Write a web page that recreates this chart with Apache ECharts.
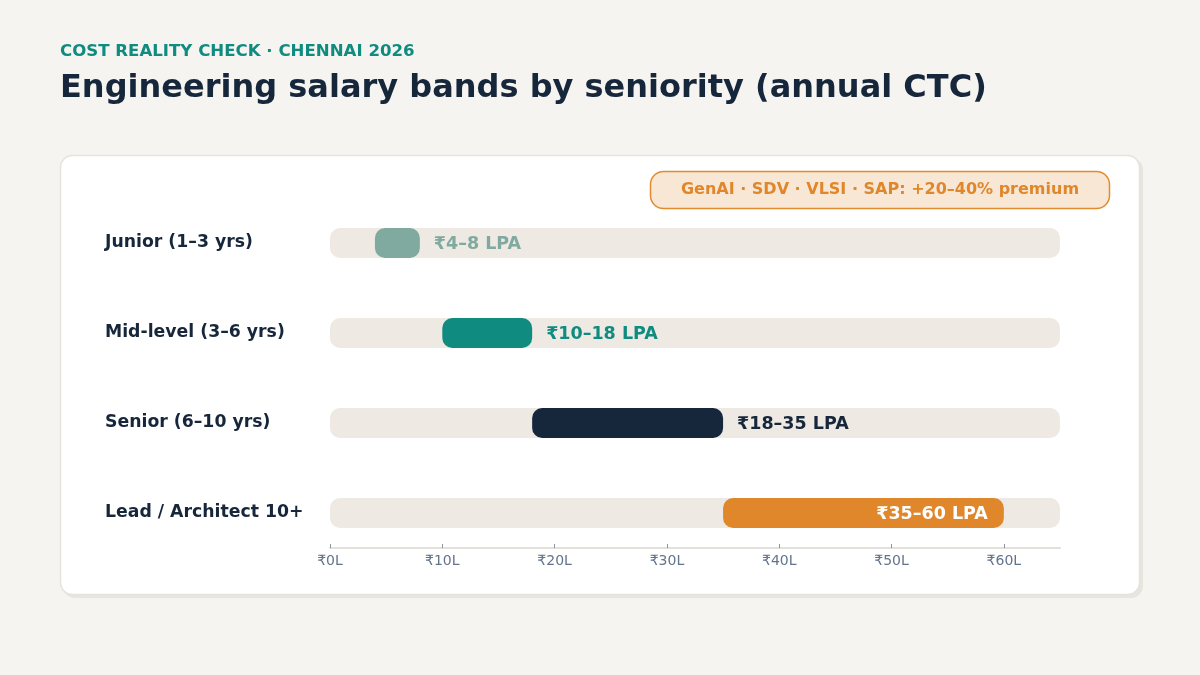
<!DOCTYPE html>
<html>
<head>
<meta charset="utf-8">
<script src="https://cdn.jsdelivr.net/npm/echarts@6/dist/echarts.min.js"></script>
<style>
  html,body{margin:0;padding:0;background:#f5f4f0;}
  #main{width:1200px;height:675px;}
</style>
</head>
<body>
<div id="main"></div>
<script>
// salary bands, in lakhs per annum
var levels = ['Junior (1–3 yrs)', 'Mid-level (3–6 yrs)', 'Senior (6–10 yrs)', 'Lead / Architect 10+'];
var bandLow = [4, 10, 18, 35];
var bandHigh = [8, 18, 35, 60];
var bandText = ['₹4–8 LPA', '₹10–18 LPA', '₹18–35 LPA', '₹35–60 LPA'];
var bandColors = ['#80a9a0', '#0f8b80', '#16263b', '#e0872b'];
var xTicks = [0, 10, 20, 30, 40, 50, 60];

var FONT = 'DejaVu Sans';

window.addEventListener('load', function(){
    initChart();
})

function initChart(){
    var myChart = echarts.init(document.getElementById('main'));

    var baseData = [];
    var rangeData = [];
    for (let i = 0; i < levels.length; i++) {
        baseData.push(bandLow[i]);
        var inside = (i == levels.length - 1);
        rangeData.push({
            value: bandHigh[i] - bandLow[i],
            itemStyle: {color: bandColors[i]},
            label: {
                show: true,
                formatter: bandText[i],
                position: inside ? 'insideRight' : 'right',
                distance: inside ? 16 : 14,
                offset: [0, 1],
                color: inside ? '#ffffff' : bandColors[i],
                fontFamily: FONT,
                fontWeight: 'bold',
                fontSize: 17.5
            }
        });
    }

    var option = {
        backgroundColor: '#f5f4f0',
        animation: false,
        textStyle: {fontFamily: FONT},
        graphic: [
            {type: 'text', left: 60, top: 43, style: {text: 'COST REALITY CHECK · CHENNAI 2026', fill: '#0f8b7f', fontFamily: FONT, fontWeight: 'bold', fontSize: 16.6}},
            {type: 'text', left: 60, top: 73, style: {text: 'Engineering salary bands by seniority (annual CTC)', fill: '#16263b', fontFamily: FONT, fontWeight: 'bold', fontSize: 32}},
            // card shadow + card
            {type: 'rect', z: -10, shape: {x: 63, y: 158, width: 1080, height: 440, r: 12}, style: {fill: '#e8e5df'}},
            {type: 'rect', z: -9, shape: {x: 60.5, y: 155.5, width: 1079, height: 439, r: 12}, style: {fill: '#ffffff', stroke: '#e6e2dc', lineWidth: 1.5}},
            // premium badge
            {type: 'rect', shape: {x: 650.5, y: 171.5, width: 459, height: 37, r: 13}, style: {fill: '#f9e7d5', stroke: '#e38b2f', lineWidth: 1.5}},
            {type: 'text', x: 880, y: 190, style: {text: 'GenAI · SDV · VLSI · SAP: +20–40% premium', fill: '#e0872b', fontFamily: FONT, fontWeight: 'bold', fontSize: 16, textAlign: 'center', textVerticalAlign: 'middle'}}
        ],
        grid: {left: 330, right: 140, top: 198, height: 360},
        xAxis: {
            type: 'value',
            min: 0,
            max: 65,
            interval: 10,
            offset: -10,
            splitLine: {show: false},
            axisLine: {show: true, lineStyle: {color: '#e3dfd9', width: 2}},
            axisTick: {show: true, length: 4, inside: true, lineStyle: {color: '#8a94a3'}},
            axisLabel: {
                color: '#64748b',
                fontFamily: FONT,
                fontSize: 14,
                margin: 6,
                showMaxLabel: false,
                formatter: function(v){ return xTicks.indexOf(v) >= 0 ? '₹' + v + 'L' : ''; }
            }
        },
        yAxis: {
            type: 'category',
            data: levels,
            inverse: true,
            axisLine: {show: false},
            axisTick: {show: false},
            axisLabel: {
                align: 'left',
                margin: 225,
                padding: [2, 0, 0, 0],
                color: '#16263b',
                fontFamily: FONT,
                fontWeight: 'bold',
                fontSize: 17.3
            }
        },
        series: [
            {
                type: 'bar',
                stack: 'band',
                barWidth: 30,
                data: baseData,
                itemStyle: {color: 'transparent'},
                showBackground: true,
                backgroundStyle: {color: '#eee9e3', borderRadius: 10},
                silent: true
            },
            {
                type: 'bar',
                stack: 'band',
                barWidth: 30,
                data: rangeData,
                itemStyle: {borderRadius: 10}
            }
        ]
    };
    myChart.setOption(option);
}
</script>
</body>
</html>
